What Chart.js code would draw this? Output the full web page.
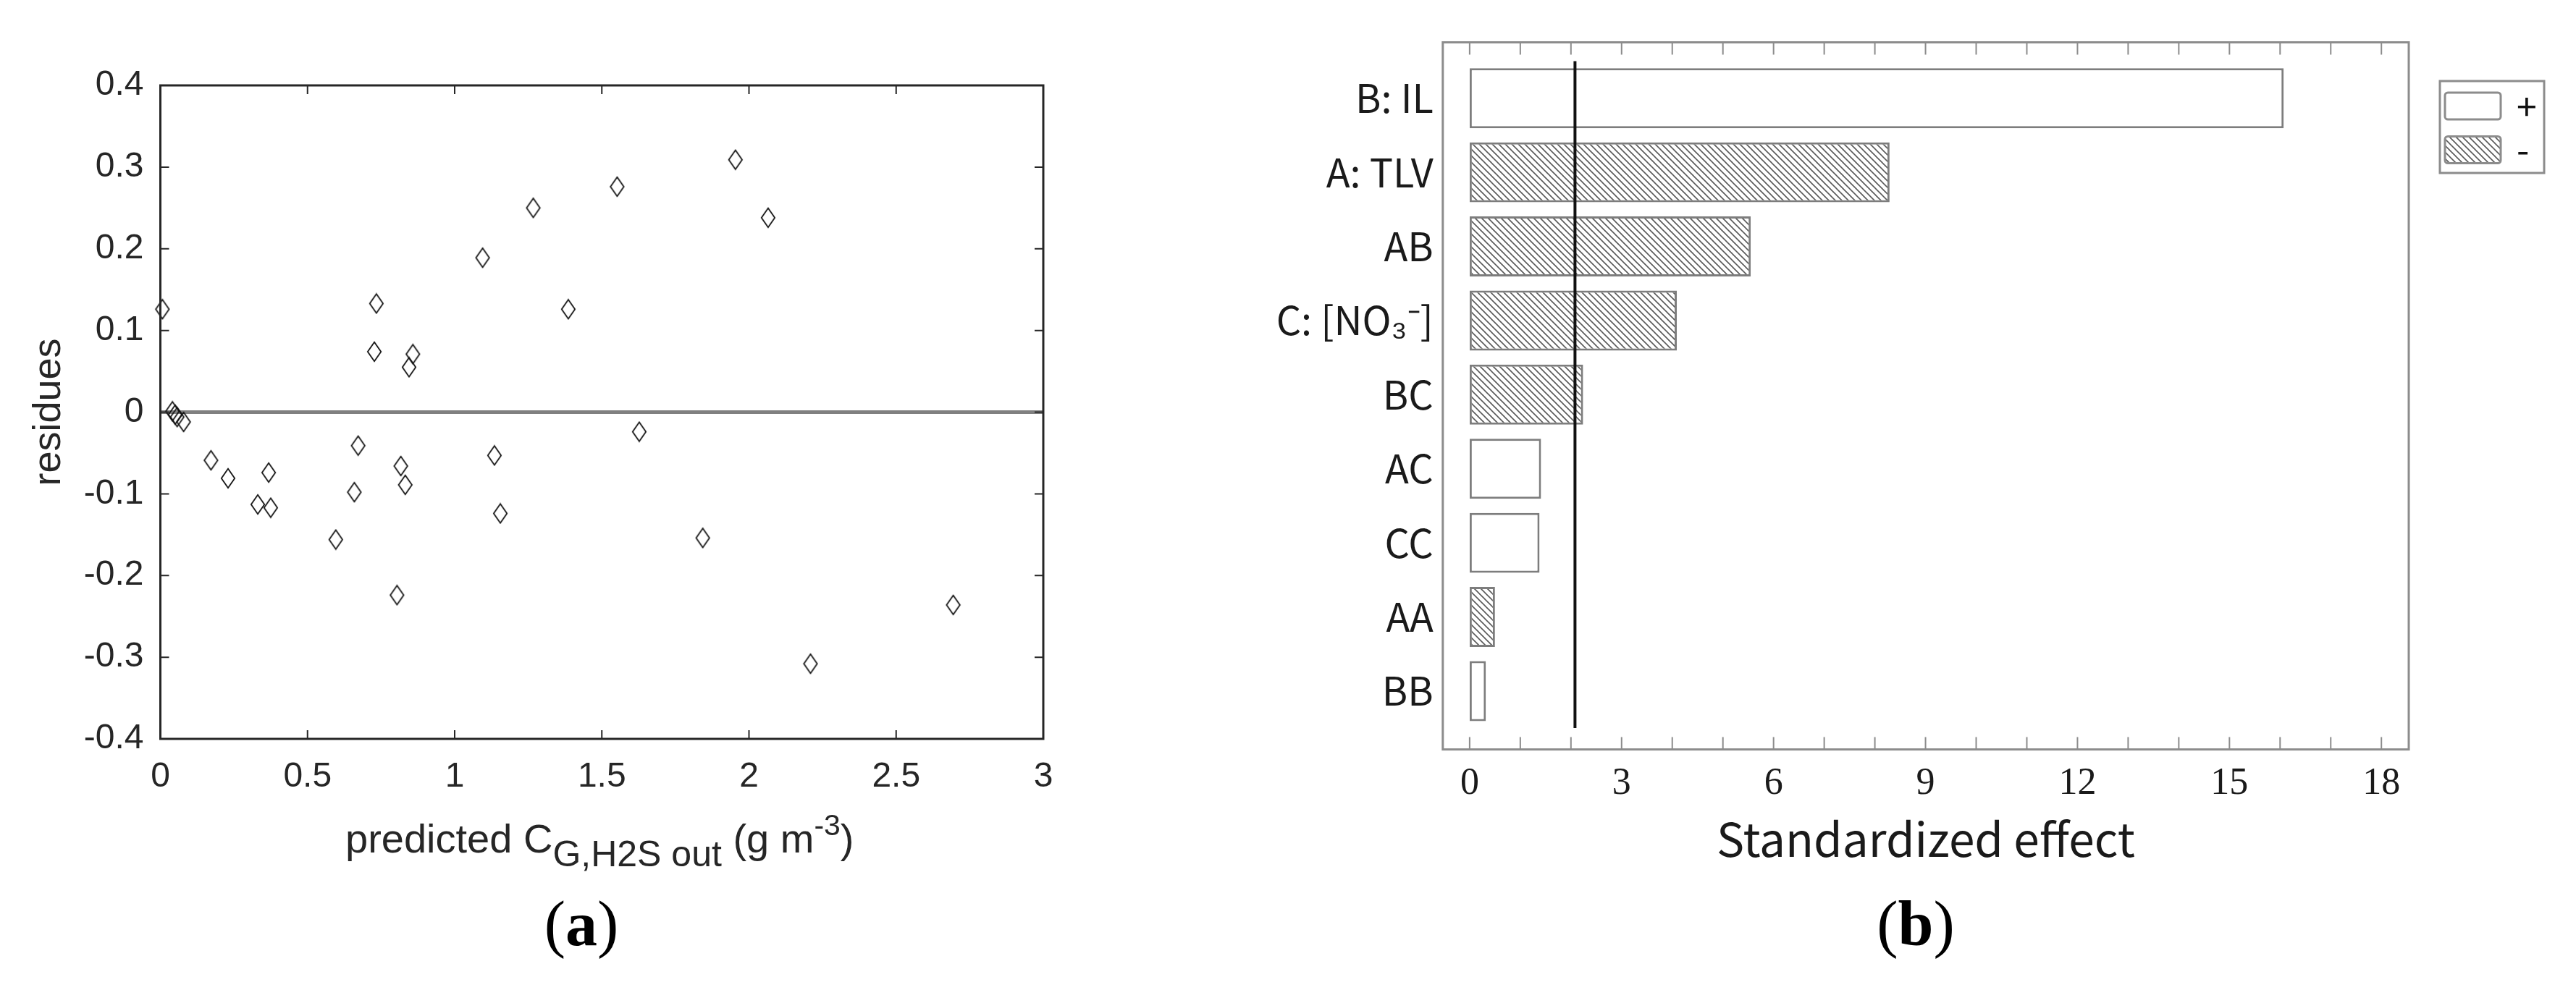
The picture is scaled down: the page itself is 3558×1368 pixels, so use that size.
<!DOCTYPE html>
<html>
<head>
<meta charset="utf-8">
<script src="https://cdn.jsdelivr.net/npm/chart.js@4.4.1/dist/chart.umd.min.js"></script>
<style>
html, body { margin: 0; padding: 0; background: #fff; }
body { width: 3558px; height: 1368px; position: relative; overflow: hidden; }
.panel { position: absolute; top: 0; height: 1368px; }
#wrapA { left: 0; width: 1500px; }
#wrapB { left: 1700px; width: 1858px; }
.cap { position: absolute; top: 1233px; font: 88px/88px "Liberation Serif", serif; color: #000; transform: translateX(-50%); white-space: nowrap; }
</style>
</head>
<body>
<div class="panel" id="wrapA"><canvas id="chartA"></canvas></div>
<div class="panel" id="wrapB"><canvas id="chartB"></canvas></div>
<div class="cap" style="left:803px">(<b>a</b>)</div>
<div class="cap" style="left:2646px">(<b>b</b>)</div>
<script>
// (a) residues vs predicted outlet H2S
const predicted = [0.007, 0.041, 0.050, 0.057, 0.079, 0.172, 0.230, 0.331, 0.368, 0.375,
  0.596, 0.659, 0.672, 0.727, 0.734, 0.804, 0.817, 0.832, 0.845, 0.858,
  1.095, 1.135, 1.155, 1.267, 1.386, 1.552, 1.627, 1.843, 1.954, 2.065, 2.209, 2.694]
const residues = [0.126, 0.001, -0.003, -0.006, -0.012, -0.059, -0.081, -0.113, -0.074, -0.117,
  -0.156, -0.098, -0.041, 0.074, 0.133, -0.224, -0.066, -0.089, 0.055, 0.071,
  0.189, -0.053, -0.124, 0.250, 0.126, 0.276, -0.024, -0.154, 0.309, 0.238, -0.308, -0.236]
const xRangeA = [0, 3]
const yRangeA = [-0.4, 0.4]

// (b) Pareto chart of standardized effects
const effectNames = ['B: IL', 'A: TLV', 'AB', 'C: [NO\u2083\u207B]', 'BC', 'AC', 'CC', 'AA', 'BB']
const effectValues = [16.07, 8.29, 5.55, 4.09, 2.24, 1.41, 1.38, 0.50, 0.32]
const effectSigns = ['+', '-', '-', '-', '-', '+', '+', '-', '+']
const criticalEffect = 2.08
const legendSigns = ['+', '-']

Chart.defaults.animation = false
Chart.defaults.font.family = "'Liberation Sans', Arial, sans-serif"
Chart.defaults.color = '#262626'

const fmt = v => String(+v.toFixed(2))

function diamondMarker(w, h, lw) {
  const c = document.createElement('canvas')
  c.width = w; c.height = h
  const g = c.getContext('2d')
  g.strokeStyle = '#111'
  g.lineWidth = lw
  g.beginPath()
  g.moveTo(w / 2, lw); g.lineTo(w - lw, h / 2); g.lineTo(w / 2, h - lw); g.lineTo(lw, h / 2)
  g.closePath()
  g.stroke()
  return c
}

function hatchPattern() {
  const s = 9
  const c = document.createElement('canvas')
  c.width = s; c.height = s
  const g = c.getContext('2d')
  g.fillStyle = '#fff'; g.fillRect(0, 0, s, s)
  g.strokeStyle = '#5a5a5a'; g.lineWidth = 1.6
  g.beginPath()
  g.moveTo(-2, -2); g.lineTo(s + 2, s + 2)
  g.moveTo(-2, s - 2); g.lineTo(2, s + 2)
  g.moveTo(s - 2, -2); g.lineTo(s + 2, 2)
  g.stroke()
  return document.createElement('canvas').getContext('2d').createPattern(c, 'repeat')
}

// box round the plot area plus inward tick marks
const framePlugin = {
  id: 'frame',
  afterDatasetsDraw(chart, args, o) {
    const { ctx, chartArea: a } = chart
    ctx.save()
    ctx.strokeStyle = o.color
    ctx.lineWidth = o.tickWidth
    ctx.beginPath()
    for (const id of ['x', 'y']) {
      const sc = chart.scales[id]
      for (const t of sc.ticks) {
        const p = sc.getPixelForValue(t.value)
        if (id === 'x') {
          if (o.sides.includes('bottom')) { ctx.moveTo(p, a.bottom); ctx.lineTo(p, a.bottom - o.tickLen) }
          if (o.sides.includes('top')) { ctx.moveTo(p, a.top); ctx.lineTo(p, a.top + o.tickLen) }
        } else {
          if (o.sides.includes('left')) { ctx.moveTo(a.left, p); ctx.lineTo(a.left + o.tickLen, p) }
          if (o.sides.includes('right')) { ctx.moveTo(a.right, p); ctx.lineTo(a.right - o.tickLen, p) }
        }
      }
    }
    ctx.stroke()
    ctx.lineWidth = o.width
    ctx.strokeRect(a.left, a.top, a.right - a.left, a.bottom - a.top)
    ctx.restore()
  }
}

// x title with sub/superscripts
const richTitle = {
  id: 'richTitle',
  afterDraw(chart, args, o) {
    if (!o.parts) return
    const { ctx, chartArea: a } = chart
    ctx.save()
    let total = 0
    const parts = o.parts.map(p => {
      ctx.font = p.size + 'px ' + o.family
      const w = ctx.measureText(p.text).width
      total += w
      return Object.assign({ w }, p)
    })
    let x = (a.left + a.right) / 2 - total / 2 + (o.shift || 0)
    const base = a.bottom + o.offset
    ctx.fillStyle = o.color
    ctx.textAlign = 'left'
    ctx.textBaseline = 'alphabetic'
    for (const p of parts) {
      ctx.font = p.size + 'px ' + o.family
      ctx.fillText(p.text, x, base + (p.dy || 0))
      x += p.w
    }
    ctx.restore()
  }
}

// framed +/- legend to the right of the plot
const signLegend = {
  id: 'signLegend',
  afterDraw(chart, args, o) {
    if (!o.labels) return
    const { ctx, chartArea: a } = chart
    const x0 = a.right + o.gap, y0 = a.top + o.top
    ctx.save()
    ctx.strokeStyle = o.frameColor
    ctx.lineWidth = 3
    ctx.strokeRect(x0, y0, o.width, o.height)
    o.labels.forEach((lab, i) => {
      const by = y0 + o.pad + i * o.step
      ctx.beginPath()
      ctx.roundRect(x0 + 7, by, o.boxW, o.boxH, 4)
      ctx.fillStyle = o.fills[lab]
      ctx.fill()
      ctx.stroke()
      ctx.fillStyle = '#111'
      ctx.font = o.fontSize + 'px ' + o.family
      ctx.textAlign = 'left'
      ctx.textBaseline = 'middle'
      ctx.fillText(lab, x0 + o.textX, by + o.boxH / 2)
    })
    ctx.restore()
  }
}

// ---------- chart (a) ----------
new Chart(document.getElementById('chartA'), {
  type: 'scatter',
  data: {
    datasets: [
      {
        label: 'residues',
        data: predicted.map((x, i) => ({ x, y: residues[i] })),
        pointStyle: diamondMarker(22, 30, 1.8),
        pointRadius: 11,
        clip: false,
        order: 1
      },
      {
        type: 'line',
        label: 'zero',
        data: xRangeA.map(x => ({ x, y: 0 })),
        borderColor: '#808080',
        borderWidth: 5,
        pointRadius: 0,
        order: 2
      }
    ]
  },
  options: {
    responsive: true,
    maintainAspectRatio: false,
    layout: { padding: { top: 118, right: 59, left: 0, bottom: 0 } },
    plugins: {
      legend: { display: false },
      tooltip: { enabled: false },
      frame: { color: '#262626', width: 3, tickWidth: 2, tickLen: 12, sides: ['top', 'bottom', 'left', 'right'] },
      richTitle: {
        family: "'Liberation Sans', Arial, sans-serif",
        color: '#262626',
        offset: 157,
        shift: -3,
        parts: [
          { text: 'predicted C', size: 56 },
          { text: 'G,H2S out', size: 50, dy: 19 },
          { text: ' (g m', size: 56 },
          { text: '-3', size: 41, dy: -24 },
          { text: ')', size: 56 }
        ]
      }
    },
    scales: {
      x: {
        type: 'linear',
        min: xRangeA[0], max: xRangeA[1],
        grid: { display: false, drawTicks: false },
        border: { display: false },
        ticks: { stepSize: 0.5, padding: 24, font: { size: 48 }, callback: fmt, autoSkip: false, maxRotation: 0 },
        afterFit: s => { s.height = 347 }
      },
      y: {
        type: 'linear',
        min: yRangeA[0], max: yRangeA[1],
        grid: { display: false, drawTicks: false },
        border: { display: false },
        ticks: { stepSize: 0.1, padding: 23, font: { size: 48 }, callback: fmt, autoSkip: false },
        title: { display: true, text: 'residues', font: { size: 54 }, padding: { top: 36, bottom: 0 } },
        afterFit: s => { s.width = 221.5 }
      }
    }
  },
  plugins: [framePlugin, richTitle]
})

// ---------- chart (b) ----------
const hatch = hatchPattern()
const signFill = { '+': '#ffffff', '-': hatch }

new Chart(document.getElementById('chartB'), {
  type: 'bar',
  data: {
    datasets: [
      {
        type: 'line',
        label: 'critical',
        data: [-0.5, effectNames.length - 0.5].map(y => ({ x: criticalEffect, y })),
        borderColor: '#111',
        borderWidth: 4,
        pointRadius: 0,
        order: 0
      },
      {
        label: 'effect',
        data: effectValues.map((x, i) => ({ x, y: i })),
        backgroundColor: effectSigns.map(s => signFill[s]),
        borderColor: '#7d7d7d',
        borderWidth: 3,
        borderSkipped: false,
        categoryPercentage: 1,
        barPercentage: 0.81,
        order: 1
      }
    ]
  },
  options: {
    indexAxis: 'y',
    responsive: true,
    maintainAspectRatio: false,
    layout: { padding: { top: 58.5, right: 231, left: 0, bottom: 0 } },
    plugins: {
      legend: { display: false },
      tooltip: { enabled: false },
      frame: { color: '#8c8c8c', width: 3, tickWidth: 2, tickLen: 17, sides: ['top', 'bottom'] },
      signLegend: {
        labels: legendSigns, fills: signFill, frameColor: '#8c8c8c',
        gap: 43, top: 53.5, width: 144, height: 127, pad: 16, step: 60.5,
        boxW: 77, boxH: 37, textX: 106, fontSize: 50, family: "'Noto Sans CJK JP', sans-serif"
      }
    },
    scales: {
      x: {
        type: 'linear',
        min: -0.53, max: 18.54,
        offset: false,
        grid: { display: false, drawTicks: false },
        border: { display: false },
        ticks: {
          stepSize: 1, includeBounds: false, autoSkip: false, maxRotation: 0, padding: 17,
          color: '#1a1a1a',
          font: { family: "'Liberation Serif', 'Times New Roman', serif", size: 52 },
          callback: v => (v % 3 === 0 ? String(v) : '')
        },
        title: {
          display: true, text: 'Standardized effect', color: '#1a1a1a',
          font: { family: "'Noto Sans CJK JP', sans-serif", size: 64 },
          padding: { top: 0, bottom: 170 }
        },
        afterFit: s => { s.height = 332.4 }
      },
      y: {
        type: 'linear',
        reverse: true,
        offset: false,
        min: -0.754, max: 8.788,
        grid: { display: false, drawTicks: false, offset: false },
        border: { display: false },
        ticks: {
          stepSize: 1, includeBounds: false, autoSkip: false, padding: 13,
          color: '#1a1a1a',
          font: { family: "'Noto Sans CJK JP', sans-serif", size: 54 },
          callback: v => effectNames[v] || ''
        },
        afterFit: s => { s.width = 292.8 }
      }
    }
  },
  plugins: [framePlugin, signLegend]
})
</script>
</body>
</html>
